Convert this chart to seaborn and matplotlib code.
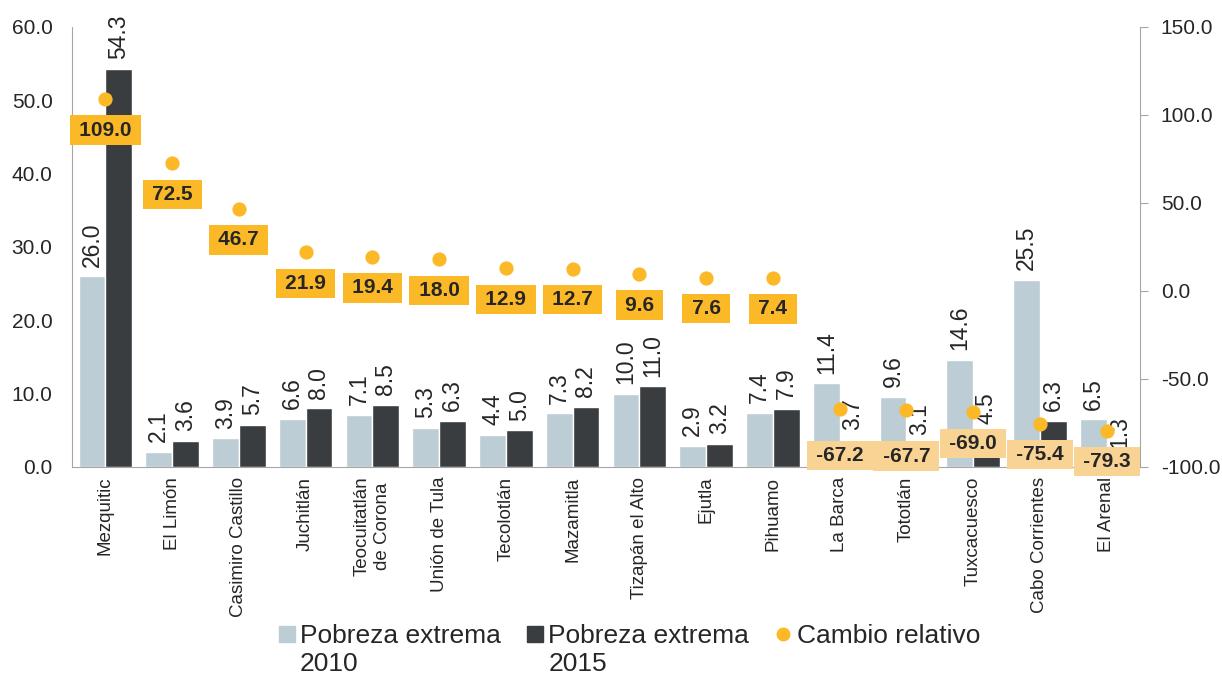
import pandas as pd
import numpy as np
import seaborn as sns
import matplotlib.pyplot as plt
from matplotlib.lines import Line2D
from matplotlib.legend_handler import HandlerLine2D

# data
municipios = ['Mezquitic', 'El Limón', 'Casimiro Castillo', 'Juchitlán',
              'Teocuitatlán\nde Corona', 'Unión de Tula', 'Tecolotlán', 'Mazamitla',
              'Tizapán el Alto', 'Ejutla', 'Pihuamo', 'La Barca', 'Tototlán',
              'Tuxcacuesco', 'Cabo Corrientes', 'El Arenal']
pobreza_2010 = [26.0, 2.1, 3.9, 6.6, 7.1, 5.3, 4.4, 7.3, 10.0, 2.9, 7.4, 11.4, 9.6, 14.6, 25.5, 6.5]
pobreza_2015 = [54.3, 3.6, 5.7, 8.0, 8.5, 6.3, 5.0, 8.2, 11.0, 3.2, 7.9, 3.7, 3.1, 4.5, 6.3, 1.3]
cambio_relativo = [109.0, 72.5, 46.7, 21.9, 19.4, 18.0, 12.9, 12.7, 9.6, 7.6, 7.4,
                   -67.2, -67.7, -69.0, -75.4, -79.3]
series = ['Pobreza extrema\n2010', 'Pobreza extrema\n2015', 'Cambio relativo']

light = '#BCCDD5'
dark = '#3A3D40'
yellow = '#FBB827'
pale = '#F9D394'
grey = '#A6A6A6'

df = pd.DataFrame({
    'municipio': municipios * 2,
    'serie': [series[0]] * len(municipios) + [series[1]] * len(municipios),
    'valor': pobreza_2010 + pobreza_2015,
})

sns.set_style('white')
plt.rcParams['font.family'] = ['Liberation Sans', 'DejaVu Sans']

fig = plt.figure(figsize=(12.22, 6.77), dpi=100)
ax = fig.add_axes([72 / 1222, 1 - 467 / 677, 1068 / 1222, 440 / 677])

sns.barplot(data=df, x='municipio', y='valor', hue='serie', palette=[light, dark],
            saturation=1, width=0.8, legend=False, ax=ax)
for cont in ax.containers:
    ax.bar_label(cont, fmt='%.1f', rotation=90, padding=7, fontsize=16.5)

ax.set_ylim(0, 60)
ax.set_yticks(np.arange(0, 61, 10))
ax.set_yticklabels([f'{v:.1f}' for v in np.arange(0, 61, 10)])
ax.set_xticks(range(len(municipios)))
ax.set_xticklabels(municipios, rotation=90, fontsize=13.5, ha='center', va='top',
                   multialignment='center')
ax.set_xlim(-0.5, len(municipios) - 0.5)
ax.set_xlabel('')
ax.set_ylabel('')
ax.tick_params(axis='y', length=0, labelsize=15, pad=14)
ax.tick_params(axis='x', length=0, pad=7)
for s in ['top', 'right']:
    ax.spines[s].set_visible(False)
for s in ['left', 'bottom']:
    ax.spines[s].set_color(grey)

# relative change on the right axis
ax2 = ax.twinx()
xs = np.arange(len(municipios))
ax2.scatter(xs, cambio_relativo, s=105, color=yellow, zorder=3, linewidths=0)
ax2.set_xlim(-0.5, len(municipios) - 0.5)
ax2.set_ylim(-100, 150)
ax2.set_yticks(np.arange(-100, 151, 50))
ax2.set_yticklabels([f'{v:.1f}' for v in np.arange(-100, 151, 50)])
ax2.tick_params(axis='y', direction='out', length=6, color=grey, labelsize=15, pad=9)
for s in ['top', 'left', 'bottom']:
    ax2.spines[s].set_visible(False)
ax2.spines['right'].set_color(grey)

lower_boxes = ['La Barca', 'Tototlán']
for i, v in enumerate(cambio_relativo):
    off = 46 if municipios[i] in lower_boxes else 31
    ax2.annotate(f'\u2009{v:.1f}\u2009', (i, v), xytext=(0, -off), textcoords='offset pixels',
                 ha='center', va='center', fontsize=15, fontweight='bold',
                 bbox=dict(boxstyle='square,pad=0.25', fc=yellow if v > 0 else pale, ec='none'),
                 zorder=4)


class TopHandler(HandlerLine2D):
    # put the marker next to the first line of a two-line label
    def create_artists(self, legend, orig_handle, xdescent, ydescent, width, height,
                       fontsize, trans):
        arts = super().create_artists(legend, orig_handle, xdescent, ydescent, width,
                                      height, fontsize, trans)
        for a in arts:
            a.set_ydata([y + 0.6 * fontsize for y in a.get_ydata()])
        return arts


handles = [
    Line2D([], [], marker='s', ls='none', markersize=11, color=light),
    Line2D([], [], marker='s', ls='none', markersize=11, color=dark),
    Line2D([], [], marker='o', ls='none', markersize=9, color=yellow),
]
labels = series[:2] + [series[2] + '\n']
fig.legend(handles, labels, loc='center', bbox_to_anchor=(0.515, 0.04), ncol=3,
           frameon=False, fontsize=19, handlelength=0.6, handletextpad=0.2,
           columnspacing=1.0, handler_map={Line2D: TopHandler()})

fig.savefig('out.png', dpi=100)
